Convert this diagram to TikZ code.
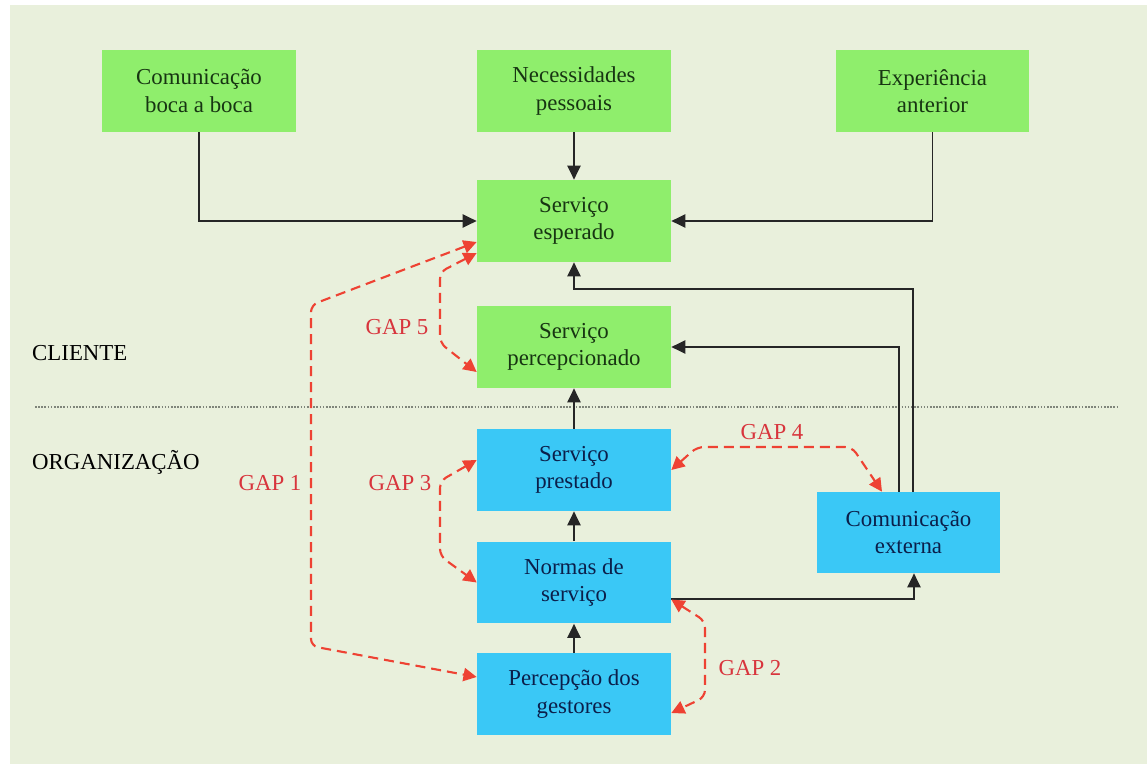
\documentclass[tikz,border=0pt]{standalone}
\usepackage{fontspec}
\setmainfont{Liberation Serif}
\newfontfamily\diagramfont{Liberation Serif}
\usepackage{xcolor}
\usetikzlibrary{arrows.meta, positioning, calc}
\definecolor{Paper}{HTML}{E9F0DC}
\definecolor{LeafGreen}{HTML}{8FEE6C}
\definecolor{SkyBlue}{HTML}{3AC8F6}
\definecolor{DeepGreen}{HTML}{173512}
\definecolor{DeepNavy}{HTML}{0B1F4A}
\definecolor{GapRed}{HTML}{EE4233}
\definecolor{GapText}{HTML}{D8353D}
\definecolor{SepGray}{HTML}{7F857A}

\begin{document}
\begin{tikzpicture}[x=0.02cm, y=-0.02cm,
    every node/.style={font=\diagramfont\fontsize{13}{15.5}\selectfont},
    clientbox/.style={rectangle, fill=LeafGreen, text=DeepGreen, align=center,
          minimum width=3.88cm, minimum height=1.64cm, inner sep=0pt},
    orgbox/.style={rectangle, fill=SkyBlue, text=DeepNavy, align=center,
          minimum width=3.88cm, minimum height=1.64cm, inner sep=0pt},
    flow/.style={-{Triangle[length=8pt,width=7.5pt]}, line width=1.1pt, black!85},
    gap/.style={{Triangle[length=7.5pt,width=7.5pt]}-{Triangle[length=7.5pt,width=7.5pt]},
          line width=1.2pt, GapRed, dash pattern=on 5.7pt off 3.4pt, rounded corners=4pt},
    gaplabel/.style={text=GapText}]

    % Canvas
    \useasboundingbox (0,0) rectangle (1147,764);
    \fill[white] (0,0) rectangle (1147,764);
    \fill[Paper] (10,5) rectangle (1147,764);

    % Expectation sources
    \node[clientbox] (boca) at (199,91) {Comunicação\\boca a boca};
    \node[clientbox] (necessidades) at (574,91) {Necessidades\\pessoais};
    \node[clientbox] (experiencia) at (932.5,91) {Experiência\\anterior};

    % Customer side
    \node[clientbox] (esperado) at (574,221) {Serviço\\esperado};
    \node[clientbox] (percebido) at (574,347) {Serviço\\percepcionado};

    % Organization side
    \node[orgbox] (prestado) at (574,470) {Serviço\\prestado};
    \node[orgbox] (normas) at (574,582.5) {Normas de\\serviço};
    \node[orgbox] (gestores) at (574,694) {Percepção dos\\gestores};
    \node[orgbox, minimum width=3.66cm, minimum height=1.62cm] (comext) at (908.5,532.5)
        {Comunicação\\externa};

    % Boundary between the two sides
    \draw[SepGray, line width=1pt, dash pattern=on 0.9pt off 0.9pt] (35,407) -- (1118,407);
    \node[anchor=west] (cliente) at (26,353) {CLIENTE};
    \node[anchor=west] (organizacao) at (26,462) {ORGANIZAÇÃO};

    % Solid flows
    \draw[flow] (boca.south) |- (esperado.west);
    \draw[flow] (necessidades.south) -- (esperado.north);
    \draw[flow] (experiencia.south) |- (esperado.east);
    \draw[flow] ($(comext.north)+(4.5,0)$) |- ($(esperado.south)+(0,27)$) -- (esperado.south);
    \draw[flow] ($(comext.north)+(-9.5,0)$) |- (percebido.east);
    \draw[flow] ($(normas.east)+(0,16.5)$) -| ($(comext.south)+(5.5,0)$);
    \draw[flow] (gestores.north) -- (normas.south);
    \draw[flow] (normas.north) -- (prestado.south);
    \draw[flow] (prestado.north) -- (percebido.south);

    % Gaps
    \draw[gap] ($(esperado.west)+(0,21)$) -- (311,305) -- (311,646) -- ($(gestores.west)+(0,-17)$);
    \draw[gap] ($(esperado.west)+(0,32)$) -- (440,272) -- (440,343) -- ($(percebido.west)+(0,25)$);
    \draw[gap] ($(prestado.west)+(0,-10)$) -- (440,481) -- (440,556) -- (normas.west);
    \draw[gap] (prestado.east) -- (697,447) -- (852,447) -- ($(comext.north)+(-26.5,0)$);
    \draw[gap] ($(normas.east)+(0,17)$) -- (705,621) -- (705,697) -- ($(gestores.east)+(0,19)$);

    \node[gaplabel] (gap1) at (270,483) {GAP 1};
    \node[gaplabel] (gap2) at (750,668) {GAP 2};
    \node[gaplabel] (gap3) at (400,483) {GAP 3};
    \node[gaplabel] (gap4) at (772,432) {GAP 4};
    \node[gaplabel] (gap5) at (397,327) {GAP 5};
\end{tikzpicture}
\end{document}
